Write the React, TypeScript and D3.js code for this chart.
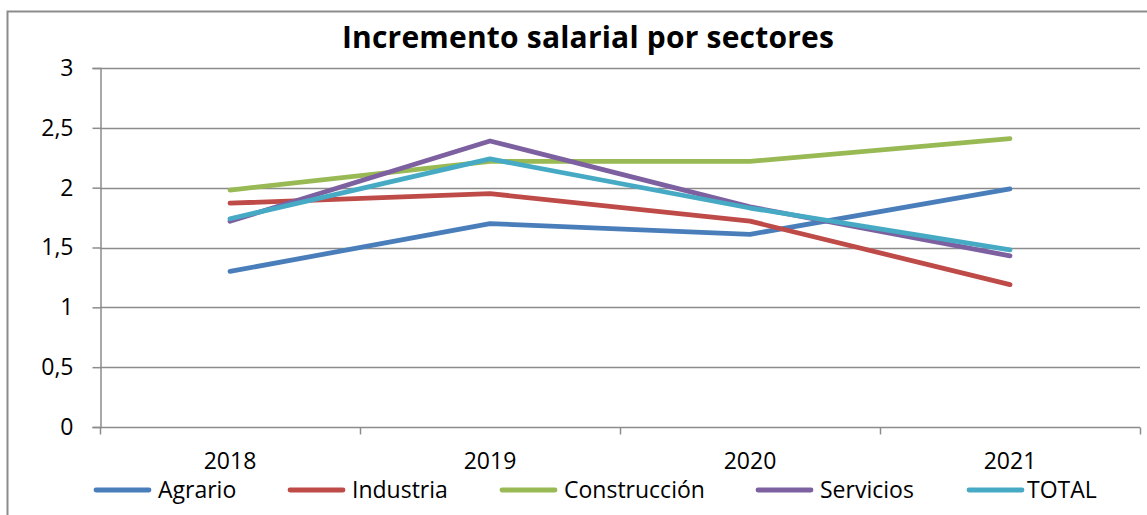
import React, { useEffect, useRef } from "react";
import * as d3 from "d3";

// años y series
const years = ["2018", "2019", "2020", "2021"];
const seriesNames = ["Agrario", "Industria", "Construcción", "Servicios", "TOTAL"];
const agrario = [1.3, 1.7, 1.61, 1.99];
const industria = [1.87, 1.95, 1.72, 1.19];
const construccion = [1.98, 2.22, 2.22, 2.41];
const servicios = [1.72, 2.39, 1.84, 1.43];
const total = [1.74, 2.24, 1.83, 1.48];
const yTicks = [0, 0.5, 1, 1.5, 2, 2.5, 3];
const colors = ["#4a7ebb", "#be4b48", "#98b954", "#7d60a0", "#46aac5"];

const allSeries = [agrario, industria, construccion, servicios, total];

export default function App() {
    const svgRef = useRef<SVGSVGElement>(null);

    useEffect(() => {
        const width = 1147;
        const height = 515;
        const margin = { top: 68, right: 7, bottom: 88, left: 100 };
        const font = "'Open Sans', Lato, sans-serif";
        const fontSize = 23;

        const svg = d3.select(svgRef.current);
        svg.selectAll("*").remove();
        svg.attr("width", width).attr("height", height);

        // marco
        svg.append("path")
            .attr("d", `M7.5,${height} V11.5 H${width}`)
            .attr("fill", "none")
            .attr("stroke", "#8c8c8c")
            .attr("stroke-width", 2);

        // título
        svg.append("text")
            .attr("x", 588)
            .attr("y", 48)
            .attr("text-anchor", "middle")
            .attr("font-family", font)
            .attr("font-weight", "bold")
            .attr("font-size", 30)
            .attr("letter-spacing", 0.2)
            .text("Incremento salarial por sectores");

        const x = d3.scaleBand()
            .domain(years)
            .range([margin.left, width - margin.right]);

        const y = d3.scaleLinear()
            .domain([0, 3])
            .range([height - margin.bottom, margin.top]);

        // líneas de cuadrícula
        svg.append("g")
            .selectAll("line")
            .data(yTicks.slice(1))
            .enter()
            .append("line")
            .attr("x1", margin.left)
            .attr("x2", width - margin.right)
            .attr("y1", d => Math.round(y(d)) + 0.5)
            .attr("y2", d => Math.round(y(d)) + 0.5)
            .attr("stroke", "#8c8c8c")
            .attr("stroke-width", 1.5);

        // eje Y
        const yAxis = svg.append("g")
            .attr("transform", `translate(${margin.left + 0.5},0)`)
            .call(d3.axisLeft(y).tickValues(yTicks).tickSize(8).tickPadding(19)
                .tickFormat(d => d3.format("~g")(d as number).replace(".", ",")));
        yAxis.select(".domain").attr("stroke", "#8c8c8c").attr("stroke-width", 1.5);
        yAxis.selectAll(".tick line").attr("stroke", "#8c8c8c").attr("stroke-width", 1.5);
        yAxis.selectAll("text")
            .attr("font-family", font)
            .attr("font-size", fontSize)
            .attr("fill", "#000");

        // eje X
        const xAxis = svg.append("g")
            .attr("transform", `translate(0,${Math.round(y(0)) + 0.5})`)
            .call(d3.axisBottom(x).tickSize(0).tickPadding(25));
        xAxis.select(".domain").remove();
        xAxis.append("line")
            .attr("x1", margin.left)
            .attr("x2", width - margin.right)
            .attr("stroke", "#8c8c8c")
            .attr("stroke-width", 1.5);
        const bounds = [...years.map(d => x(d) as number), width - margin.right];
        xAxis.selectAll(".bound")
            .data(bounds)
            .enter()
            .append("line")
            .attr("x1", d => Math.round(d) + 0.5)
            .attr("x2", d => Math.round(d) + 0.5)
            .attr("y1", 0)
            .attr("y2", 7)
            .attr("stroke", "#8c8c8c")
            .attr("stroke-width", 1.5);
        xAxis.selectAll("text")
            .attr("font-family", font)
            .attr("font-size", fontSize)
            .attr("fill", "#000");

        // series
        const line = d3.line<number>()
            .x((_, i) => (x(years[i]) as number) + x.bandwidth() / 2)
            .y(d => y(d));

        allSeries.forEach((values, i) => {
            svg.append("path")
                .datum(values)
                .attr("d", line)
                .attr("fill", "none")
                .attr("stroke", colors[i])
                .attr("stroke-width", 4.8)
                .attr("stroke-linecap", "round")
                .attr("stroke-linejoin", "round");
        });

        // leyenda
        const legendX = [96, 290, 502, 758, 969];
        const legend = svg.append("g")
            .selectAll("g")
            .data(seriesNames)
            .enter()
            .append("g")
            .attr("transform", (_, i) => `translate(${legendX[i]},490)`);
        legend.append("line")
            .attr("x1", 0)
            .attr("x2", 53)
            .attr("stroke", (_, i) => colors[i])
            .attr("stroke-width", 4.8)
            .attr("stroke-linecap", "round");
        legend.append("text")
            .attr("x", (_, i) => (i === 4 ? 58 : 62))
            .attr("y", 0)
            .attr("dy", "0.35em")
            .attr("font-family", font)
            .attr("font-size", fontSize)
            .text(d => d);
    }, []);

    return <svg ref={svgRef} style={{ position: "absolute", left: 0, top: 0 }}></svg>;
}
